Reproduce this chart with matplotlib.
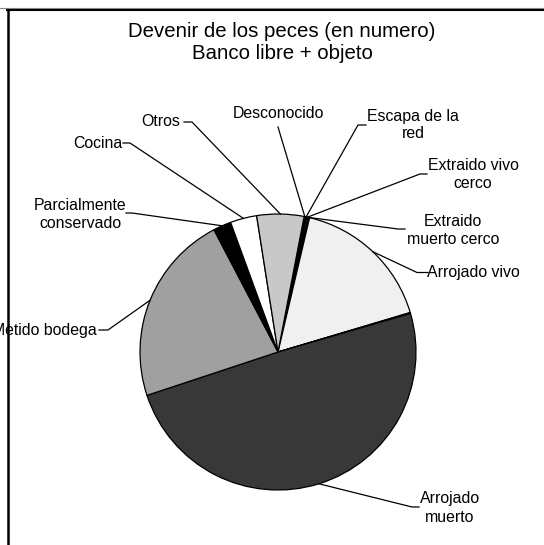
import numpy as np
import matplotlib
matplotlib.use('Agg')
import matplotlib.pyplot as plt
from matplotlib.lines import Line2D

plt.rcParams['font.family'] = ['Liberation Sans', 'DejaVu Sans']

# Share of fish (%), clockwise from the top
categories = ['Desconocido', 'Escapa de la\nred', 'Extraido vivo\ncerco',
              'Extraido\nmuerto cerco', 'Arrojado vivo', '',
              'Arrojado\nmuerto', 'Metido bodega', 'Parcialmente\nconservado',
              'Cocina', 'Otros']
values = [0.17, 0.14, 0.17, 0.17, 16.7, 0.11, 49.4, 22.4, 2.1, 3.1, 5.5]
colors = ['#707070', '#404040', '#909090', '#303030', '#f0f0f0', '#ffffff',
          '#383838', '#a0a0a0', '#000000', '#ffffff', '#c8c8c8']

# label layout in pixels (y from top): text pos, alignment, leader start points
label_pos = [(278, 113), (413, 125), (473, 174), (453, 230), (473, 272.5), None,
             (450, 508), (97, 330), (80, 215), (98, 144), (161, 122)]
label_ha = ['center', 'center', 'center', 'center', 'center', None,
            'center', 'right', 'center', 'center', 'center']
leader_start = [[(278, 127)], [(366, 125), (358, 125)], [(427, 174), (420, 174)],
                [(405, 229), (398, 229)], [(428, 272.5), (417, 272.5)], None,
                [(419, 507), (412, 507)], [(99, 330), (108, 330)],
                [(126, 213), (132, 213)], [(123, 143), (130, 143)],
                [(184, 122), (192, 122)]]

W, H = 544, 545
cx, cy, r = 278, H - 352, 138

fig = plt.figure(figsize=(5.44, 5.45), dpi=100)
ax = fig.add_axes([0, 0, 1, 1])
wedges, _ = ax.pie(values, colors=colors, startangle=79.1, counterclock=False,
                   radius=r, center=(cx, cy),
                   wedgeprops=dict(edgecolor='black', linewidth=0.9))
ax.set_xlim(0, W)
ax.set_ylim(0, H)
ax.set_aspect('auto')
ax.axis('off')

for w, lab, pos, ha, lead in zip(wedges, categories, label_pos, label_ha, leader_start):
    if pos is None:
        continue
    mid = np.deg2rad((w.theta1 + w.theta2) / 2)
    px, py = cx + r * np.cos(mid), cy + r * np.sin(mid)
    xs = [p[0] for p in lead] + [px]
    ys = [H - p[1] for p in lead] + [py]
    ax.plot(xs, ys, color='black', lw=0.9, zorder=3)
    ax.text(pos[0], H - pos[1], lab, ha=ha, va='center', fontsize=11.4,
            linespacing=1.25, zorder=6,
            bbox=dict(facecolor='white', edgecolor='none', pad=0) if ha == 'right' else None)

fig.text(282 / W, 1 - 42.5 / H, 'Devenir de los peces (en numero)\nBanco libre + objeto',
         ha='center', va='center', fontsize=14.7, linespacing=1.25)

# chart border (top and left only visible)
fig.add_artist(Line2D([0, 1], [1 - 8 / H, 1 - 8 / H], color='#888888', lw=0.8))
fig.add_artist(Line2D([7 / W, 1], [1 - 9.8 / H, 1 - 9.8 / H], color='black', lw=1.5))
fig.add_artist(Line2D([7.5 / W, 7.5 / W], [0, 1 - 9.5 / H], color='black', lw=1.8, zorder=1))

fig.savefig('out.png', dpi=100)
